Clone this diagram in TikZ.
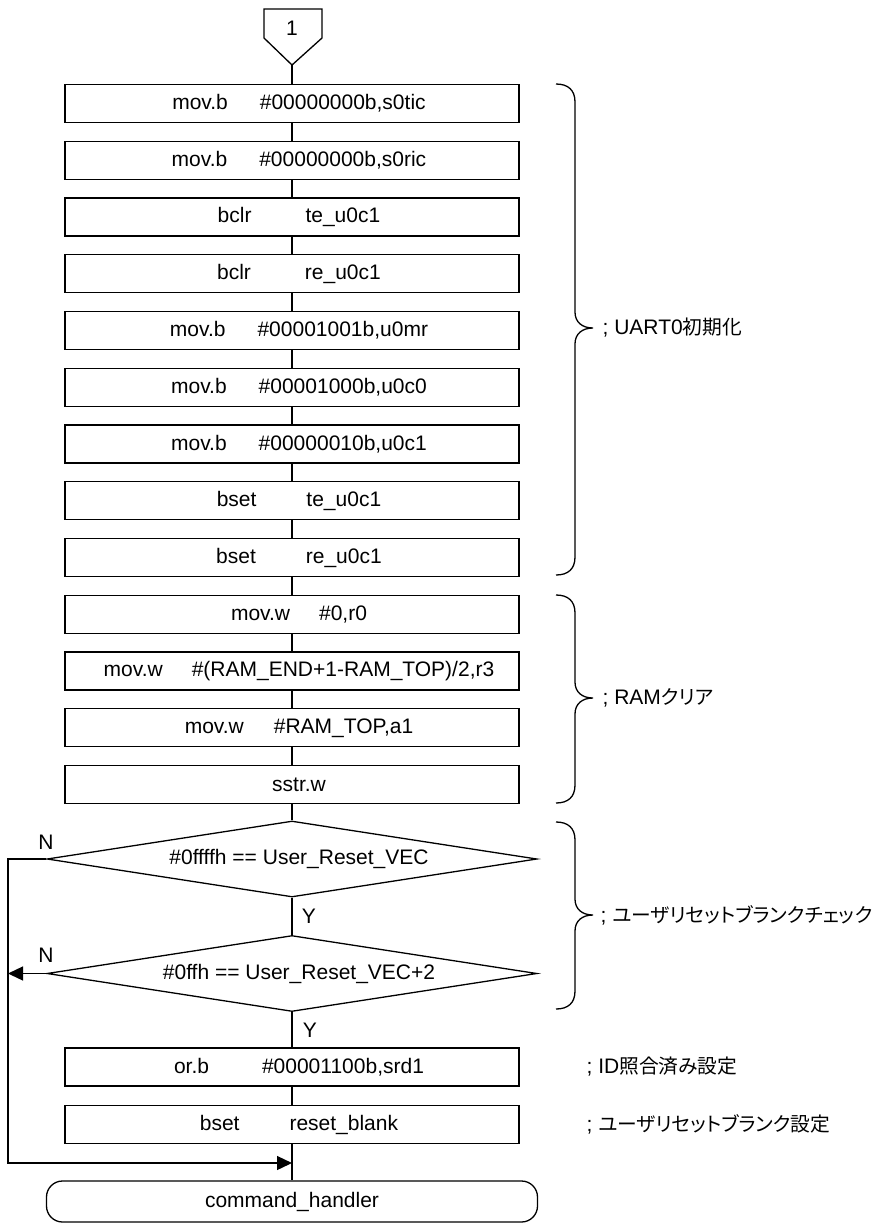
\documentclass[tikz,border=0pt]{standalone}
\usepackage{fontspec}
\setmainfont{Liberation Sans}
\newfontfamily\cjk[RawFeature=+palt,Scale=0.94]{Noto Sans CJK JP}
\usetikzlibrary{shapes.geometric,arrows.meta}

\newcommand{\ins}[3]{\hspace*{14pt}#1\hspace{#2}#3}
\newcommand{\mybrace}[3]{%
 \draw (556,#1) .. controls (568,#1) and (575,{#1+6}) .. (575,{#1+18})
 -- (575,{#2-16}) .. controls (575,{#2-6}) and (582,#2) .. (593,#2)
 .. controls (582,#2) and (575,{#2+6}) .. (575,{#2+16})
 -- (575,{#3-18}) .. controls (575,{#3-6}) and (568,#3) .. (556,#3);}

\begin{document}
\begin{tikzpicture}[x=1pt,y=-1pt,
  line width=1.3pt,
  every node/.style={font=\fontsize{21pt}{25pt}\selectfont},
  box/.style={draw, rectangle, minimum width=454pt, minimum height=38pt, inner sep=0pt},
  dec/.style={draw, diamond, shape aspect=6.4, minimum width=490pt, minimum height=76pt, inner sep=0pt},
  term/.style={draw, rectangle, rounded corners=16pt, minimum width=491pt, minimum height=41pt, inner sep=0pt},
  lbl/.style={anchor=west, inner sep=0pt},
  arr/.style={-{Triangle[length=15pt,width=14pt]}}
]
\useasboundingbox (0,0) rectangle (884,1224);

% off-page connector
\draw (264,9) -- (322,9) -- (322,38) -- (292,65) -- (264,38) -- cycle;
\node (c1) at (292,28) {1};
\coordinate (c1t) at (292,65);

\node[box] (b1) at (292,103.5) {\ins{mov.b}{32pt}{\#00000000b,s0tic}};
\node[box] (b2) at (292,160.25) {\ins{mov.b}{32pt}{\#00000000b,s0ric}};
\node[box] (b3) at (292,217) {\ins{bclr}{54pt}{te\_u0c1}};
\node[box] (b4) at (292,273.75) {\ins{bclr}{54pt}{re\_u0c1}};
\node[box] (b5) at (292,330.5) {\ins{mov.b}{32pt}{\#00001001b,u0mr}};
\node[box] (b6) at (292,387.25) {\ins{mov.b}{32pt}{\#00001000b,u0c0}};
\node[box] (b7) at (292,444) {\ins{mov.b}{32pt}{\#00000010b,u0c1}};
\node[box] (b8) at (292,500.75) {\ins{bset}{50pt}{te\_u0c1}};
\node[box] (b9) at (292,557.5) {\ins{bset}{50pt}{re\_u0c1}};
\node[box] (b10) at (292,614.25) {\ins{mov.w}{29pt}{\#0,r0}};
\node[box] (b11) at (292,671) {\ins{mov.w}{29pt}{\#(RAM\_END+1-RAM\_TOP)/2,r3}};
\node[box] (b12) at (292,727.75) {\ins{mov.w}{30pt}{\#RAM\_TOP,a1}};
\node[box] (b13) at (292,784.5) {\hspace*{14pt}sstr.w};

\node[dec] (d1) at (292,859) {\hspace*{14pt}\#0ffffh == User\_Reset\_VEC};
\node[dec] (d2) at (292,973.5) {\hspace*{14pt}\#0ffh == User\_Reset\_VEC+2};

\node[box] (b14) at (292,1067) {\ins{or.b}{53pt}{\#00001100b,srd1}};
\node[box] (b15) at (292,1124.5) {\ins{bset}{50pt}{reset\_blank}};
\node[term] (t) at (292,1201.5) {command\_handler};

\node (y1) at (309,916) {Y};
\node (y2) at (310,1030) {Y};
\node (n1) at (46,842) {N};
\node (n2) at (46,955) {N};

% main flow
\draw (c1t) -- (b1.north);
\foreach \a/\b in {b1/b2,b2/b3,b3/b4,b4/b5,b5/b6,b6/b7,b7/b8,b8/b9,b9/b10,b10/b11,b11/b12,b12/b13}
  \draw (\a.south) -- (\b.north);
\draw (b13.south) -- (d1.north);
\draw (d1.south) -- (d2.north);
\draw (d2.south) -- (b14.north);
\draw (b14.south) -- (b15.north);
\draw (b15.south) -- (t.north);

\coordinate (L1) at (8,859);
\coordinate (L2) at (8,973.5);
\coordinate (M) at (292,1163);
\draw[arr] (d1.west) -- (L1) |- (M);
\draw[arr] (d2.west) -- (L2);

% braces
\mybrace{84}{328}{575}
\mybrace{595}{698}{803}
\mybrace{822}{915}{1009}

\node[lbl] (t1) at (602,328) {; UART0{\cjk 初期化}};
\node[lbl] (t2) at (602,698) {; RAM{\cjk クリア}};
\node[lbl] (t3) at (600,915) {; {\cjk ユーザリセットブランクチェック}};
\node[lbl] (t4) at (586,1067) {; ID{\cjk 照合済み設定}};
\node[lbl] (t5) at (586,1124.5) {; {\cjk ユーザリセットブランク設定}};
\end{tikzpicture}
\end{document}
